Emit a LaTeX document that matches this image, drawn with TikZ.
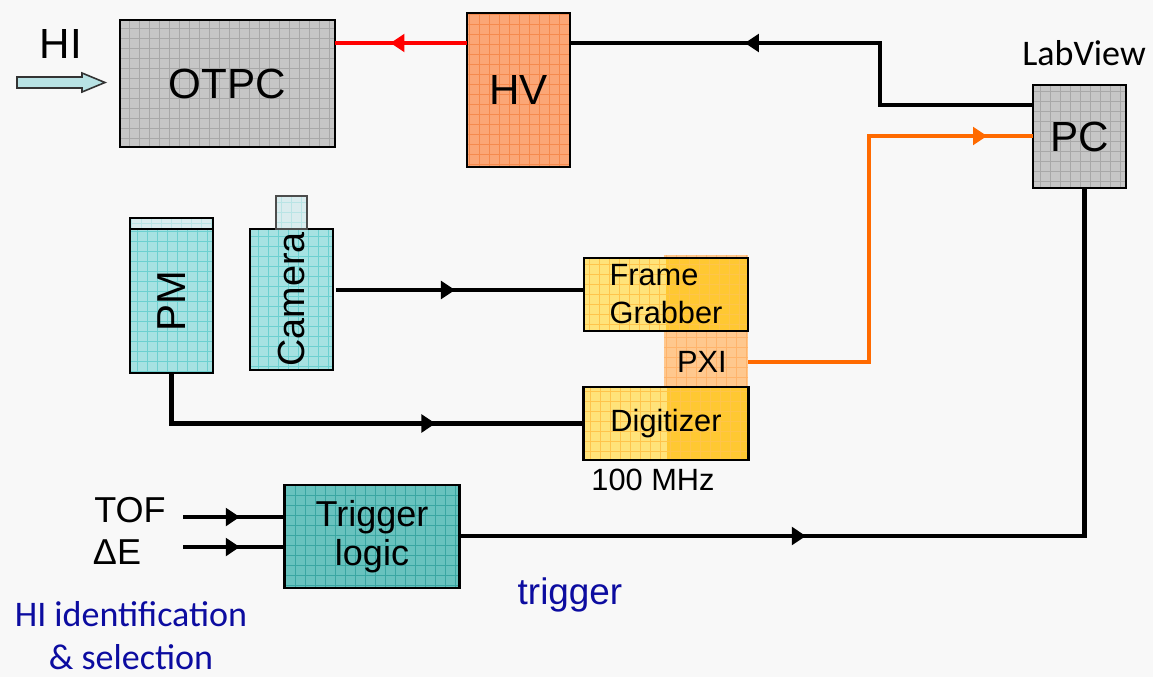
\documentclass[tikz,border=0pt]{standalone}
\usepackage{fontspec}
\usepackage{graphicx}
\setmainfont{Liberation Sans}
\newfontfamily\calibfont{Carlito}
\usetikzlibrary{positioning,calc,arrows.meta,decorations.markings}

\definecolor{bgpage}{HTML}{F8F8F8}
\definecolor{boxgray}{HTML}{C6C6C6}
\definecolor{meshgray}{HTML}{A8A8A8}
\definecolor{hvorange}{HTML}{FBA676}
\definecolor{meshorange}{HTML}{F58A4E}
\definecolor{pmcyan}{HTML}{A6E2E2}
\definecolor{meshcyan}{HTML}{6CD0D0}
\definecolor{capcyan}{HTML}{DAECEE}
\definecolor{trigteal}{HTML}{68C2BE}
\definecolor{meshteal}{HTML}{3AA6A2}
\definecolor{pxiorange}{HTML}{FFC88E}
\definecolor{meshpxi}{HTML}{FFB46C}
\definecolor{lightyellow}{HTML}{FFE37A}
\definecolor{deepyellow}{HTML}{FFC832}
\definecolor{meshyellow}{HTML}{FFC44C}
\definecolor{lineorange}{HTML}{FF6A00}
\definecolor{navytext}{HTML}{0C0CA0}
\definecolor{arrowfill}{HTML}{B8E2E4}

\begin{document}
\begin{tikzpicture}[
    x=0.02cm, y=-0.02cm,
    block/.style={rectangle, draw=black, line width=1.2pt, inner sep=0pt, outer sep=0pt, align=center},
    meshlines/.style={path picture={\draw[#1, line width=0.3pt] (path picture bounding box.south west) grid[step=0.2cm] (path picture bounding box.north east);}},
    yellowbox/.style={block, fill=lightyellow, path picture={
        \fill[deepyellow] ([xshift=-1.64cm]path picture bounding box.south east) rectangle (path picture bounding box.north east);
        \draw[meshyellow, line width=0.3pt] (path picture bounding box.south west) grid[step=0.2cm] (path picture bounding box.north east);}},
    wire/.style={line width=2.3pt},
    midarrow/.style={postaction={decorate}, decoration={markings, mark=at position #1 with {\arrow{Triangle[length=8pt,width=10pt]}}}},
    bigtext/.style={font=\fontsize{24}{26}\selectfont},
    midtext/.style={font=\fontsize{20.5}{22.2}\selectfont},
    smalltext/.style={font=\fontsize{17.5}{21.6}\selectfont},
    notetext/.style={font=\calibfont\fontsize{20.5}{24.5}\selectfont}
]
\fill[bgpage] (0,0) rectangle (1153,677);
\useasboundingbox (0,0) rectangle (1153,677);

\node[bigtext] (hilabel) at (61,44) {HI};
\filldraw[fill=arrowfill, draw=black!80, line width=0.9pt] (17,77) -- (82,77) -- (82,73) -- (105,82.5) -- (82,92) -- (82,88) -- (17,88) -- cycle;

\node[block, fill=boxgray, meshlines=meshgray, minimum width=4.30cm, minimum height=2.54cm, bigtext] (otpc) at (227.5,83.5) {OTPC};
\node[block, fill=hvorange, meshlines=meshorange, minimum width=2.06cm, minimum height=3.08cm, bigtext] (hv) at (518.5,90) {HV};
\node[block, fill=boxgray, meshlines=meshgray, minimum width=1.86cm, minimum height=2.06cm, bigtext] (pc) at (1079.5,136.5) {PC};
\node[notetext] (labview) at (1084,53) {LabView};

\node[block, fill=pmcyan, meshlines=meshcyan, minimum width=1.66cm, minimum height=2.88cm, font=\fontsize{23}{24}\selectfont] (pm) at (171.5,301) {\rotatebox{90}{PM}};
\node[block, fill=capcyan, meshlines=capcyan!70!meshcyan, minimum width=1.66cm, minimum height=0.22cm, above=0pt of pm] (pmcap) {};
\node[block, fill=pmcyan, meshlines=meshcyan, minimum width=1.66cm, minimum height=2.82cm, font=\fontsize{21.5}{24}\selectfont] (cam) at (291.5,299.5) {\rotatebox{90}{Camera}};
\node[block, draw=black!70, fill=capcyan, meshlines=capcyan!70!meshcyan, minimum width=0.62cm, minimum height=0.66cm, above=0pt of cam] (lens) {};

\node[rectangle, fill=pxiorange, meshlines=meshpxi, minimum width=1.68cm, minimum height=4.10cm, inner sep=0pt] (pxi) at (706,357.5) {};
\node[yellowbox, minimum width=3.28cm, minimum height=1.46cm, smalltext, align=left] (fg) at (666,294.5) {Frame\\Grabber};
\node[yellowbox, minimum width=3.30cm, minimum height=1.46cm, smalltext, below=1.12cm of fg] (dig) {Digitizer};
\node[smalltext] (pxitext) at (702,362) {PXI};
\node[smalltext] (rate) at (653,480) {100 MHz};

\node[block, fill=trigteal, meshlines=meshteal, minimum width=3.50cm, minimum height=2.06cm, midtext] (trig) at (372,536.5) {Trigger\\logic};
\node[midtext] (tof) at (130,510) {TOF};
\node[midtext] (de) at (117,552) {ΔE};
\coordinate (tofin) at (183,517);
\coordinate (dein) at (183,547);
\node[notetext, text=navytext, align=center] (hiid) at (131,636) {HI identification\\\& selection};
\node[font=\fontsize{21}{24}\selectfont, text=navytext] (trigname) at (570,595) {trigger};

\draw[wire, red, midarrow=0.58] (hv.west |- 0,43) -- (otpc.east |- 0,43);
\draw[wire, midarrow=0.667] (pc.west |- 0,105) -| (880,43) -- (hv.east |- 0,43);
\draw[wire, lineorange, midarrow=0.91] (pxi.east |- 0,362) -| (869,136) -- (pc.west |- 0,136);
\draw[wire, midarrow=0.48] ([xshift=0.06cm]cam.east |- 0,290) -- (fg.west |- 0,290);
\draw[wire, midarrow=0.68] (pm.south) |- (dig.west);
\draw[wire, midarrow=0.56] (tofin) -- (trig.west |- tofin);
\draw[wire, midarrow=0.56] (dein) -- (trig.west |- dein);
\draw[wire, midarrow=0.356] (trig.east |- 0,536) -| ([xshift=0.1cm]pc.south);
\end{tikzpicture}
\end{document}
